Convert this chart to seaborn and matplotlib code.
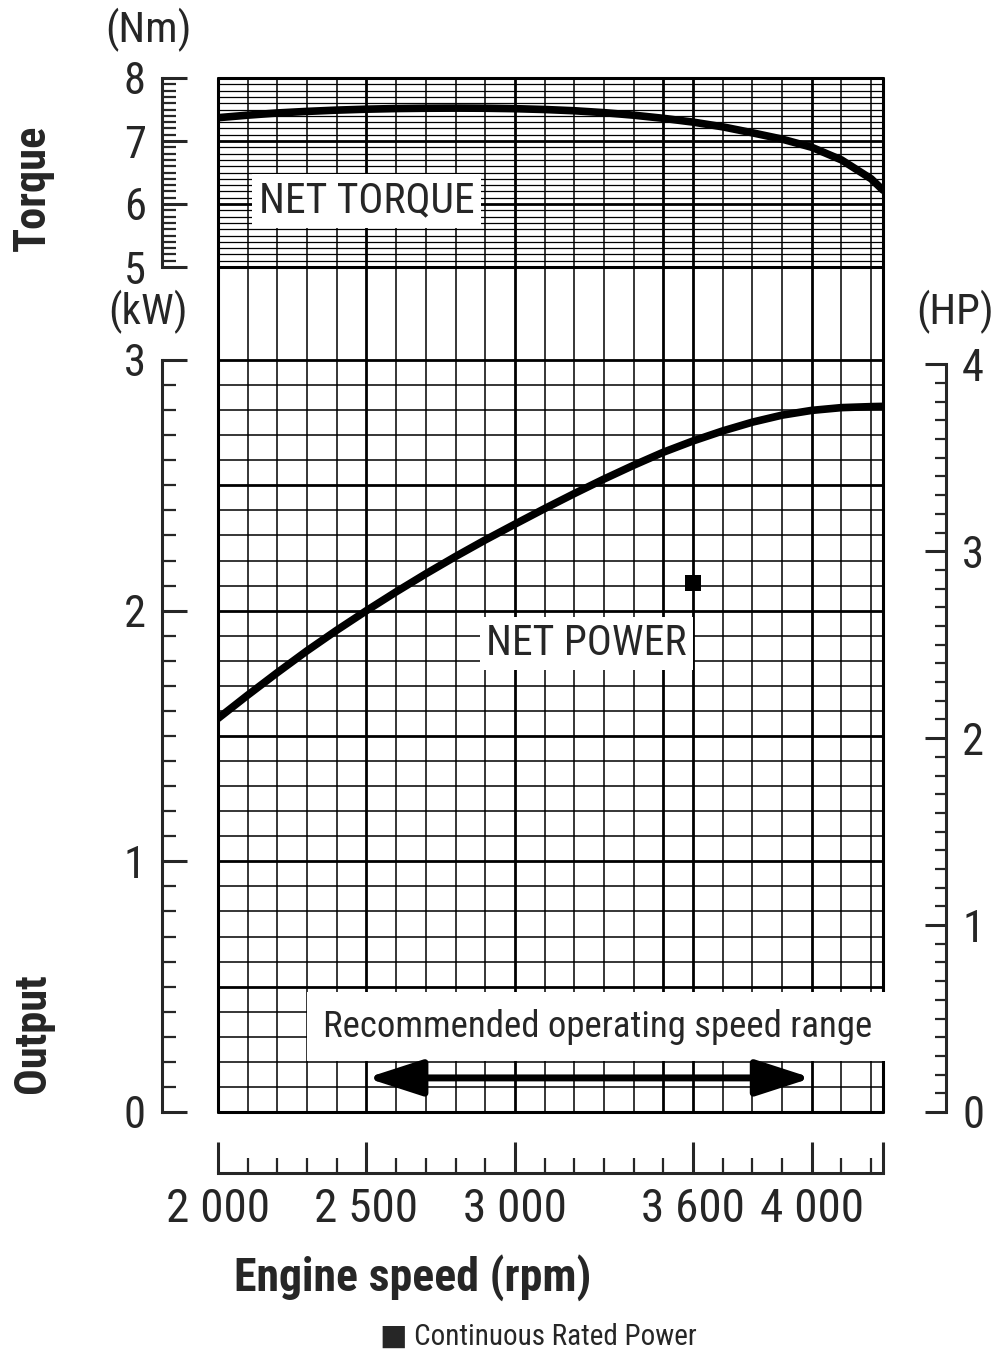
import numpy as np
import matplotlib
matplotlib.use("Agg")
import matplotlib.pyplot as plt
import seaborn as sns

# -----------------------------
# DATA
# -----------------------------
rpm = [2000, 2100, 2200, 2300, 2400, 2500, 2600, 2700, 2800, 2900, 3000, 3100,
       3200, 3300, 3400, 3500, 3600, 3700, 3800, 3900, 4000, 4100, 4200, 4240]
net_power_kw = [1.570, 1.663, 1.753, 1.840, 1.922, 2.000, 2.075, 2.147, 2.216, 2.282,
                2.345, 2.407, 2.467, 2.525, 2.580, 2.632, 2.677, 2.717, 2.752, 2.780,
                2.799, 2.810, 2.814, 2.815]
net_torque_nm = [7.37, 7.41, 7.445, 7.47, 7.49, 7.505, 7.515, 7.52, 7.522, 7.52,
                 7.513, 7.50, 7.48, 7.45, 7.41, 7.36, 7.30, 7.225, 7.13, 7.03,
                 6.90, 6.70, 6.40, 6.22]

rated_rpm = [3600]
rated_kw = [2.11]

range_rpm = [2500, 4000]
range_kw = 0.136

x_ticks = [2000, 2500, 3000, 3600, 4000, 4240]
x_labels = ["2 000", "2 500", "3 000", "3 600", "4 000", ""]
torque_ticks = [5, 6, 7, 8]
kw_ticks = [0, 1, 2, 3]
hp_ticks = [0, 1, 2, 3, 4]

KW_PER_HP = 0.7457
X_MIN, X_MAX = 2000, 4240
T_MIN, T_MAX = 5, 8
P_TOP = 3.371

# -----------------------------
# STYLE
# -----------------------------
sns.set_style("white")
plt.rcParams['font.family'] = ['Roboto Condensed', 'DejaVu Sans']
plt.rcParams['axes.linewidth'] = 2.2

W, H = 996, 1353
fig = plt.figure(figsize=(W / 100, H / 100), dpi=100)


def fx(x):
    return x / W


def fy(y):
    return 1 - y / H


L, R = fx(218), fx(883)
ax_p = fig.add_axes([L, fy(1112), R - L, fy(267) - fy(1112)])
ax_t = fig.add_axes([L, fy(267), R - L, fy(78) - fy(267)], sharex=ax_p)

thin, bold = 1.1, 2.0
v_all = np.arange(2100, 4240, 100)
v_bold = [2500, 3000, 3500, 3600, 4000]

# -----------------------------
# TORQUE PANEL
# -----------------------------
ax_t.set_xlim(X_MIN, X_MAX)
ax_t.set_ylim(T_MIN, T_MAX)
h_t = np.round(np.arange(5.1, 8.0, 0.1), 1)
ax_t.hlines([v for v in h_t if v not in (6, 7)], X_MIN, X_MAX, color="black", lw=0.9, zorder=1)
ax_t.hlines([6, 7], X_MIN, X_MAX, color="black", lw=bold, zorder=1)
ax_t.vlines([v for v in v_all if v not in v_bold], T_MIN, T_MAX, color="black", lw=thin, zorder=1)
ax_t.vlines(v_bold, T_MIN, T_MAX, color="black", lw=bold, zorder=1)
for y in (T_MIN, T_MAX):
    ax_t.axhline(y, color="black", lw=2.2, clip_on=False, zorder=3)
for x in (X_MIN, X_MAX):
    ax_t.axvline(x, color="black", lw=2.2, clip_on=False, zorder=3)

sns.lineplot(x=rpm, y=net_torque_nm, ax=ax_t, color="black", lw=5.5,
             estimator=None, zorder=4)
ax_t.text(2500, 6.05, "NET TORQUE", fontsize=30, ha="center", va="center", zorder=5,
          bbox=dict(boxstyle="square,pad=0.15", facecolor="white", edgecolor="none"))

for s in ("top", "right", "bottom"):
    ax_t.spines[s].set_visible(False)
ax_t.spines['left'].set_position(('outward', 40))
ax_t.spines['left'].set_bounds(T_MIN, T_MAX)
ax_t.set_yticks(torque_ticks)
ax_t.set_yticks(np.arange(5, 8.01, 0.1), minor=True)
ax_t.tick_params(axis="y", which="major", direction="in", length=18, width=2.2,
                 labelsize=32, pad=12, left=True)
ax_t.tick_params(axis="y", which="minor", direction="in", length=10, width=1.6, left=True)
ax_t.tick_params(axis="x", which="both", bottom=False, labelbottom=False)
ax_t.set_xlabel("")
ax_t.set_ylabel("")

# -----------------------------
# POWER PANEL
# -----------------------------
ax_p.set_xlim(X_MIN, X_MAX)
ax_p.set_ylim(0, P_TOP)
h_p = np.round(np.arange(0.1, 3.01, 0.1), 1)
h_bold = [0.5, 1.0, 1.5, 2.0, 2.5, 3.0]
ax_p.hlines([v for v in h_p if v not in h_bold], X_MIN, X_MAX, color="black", lw=thin, zorder=1)
ax_p.hlines(h_bold, X_MIN, X_MAX, color="black", lw=bold, zorder=1)
ax_p.vlines([v for v in v_all if v not in v_bold], 0, P_TOP, color="black", lw=thin, zorder=1)
ax_p.vlines(v_bold, 0, P_TOP, color="black", lw=bold, zorder=1)
ax_p.axhline(0, color="black", lw=2.2, clip_on=False, zorder=3)
for x in (X_MIN, X_MAX):
    ax_p.axvline(x, color="black", lw=2.2, clip_on=False, zorder=3)

sns.lineplot(x=rpm, y=net_power_kw, ax=ax_p, color="black", lw=5.5,
             estimator=None, zorder=4)
sns.scatterplot(x=rated_rpm, y=rated_kw, ax=ax_p, marker="s", s=120, color="black",
                edgecolor="black", linewidth=0, zorder=5)

ax_p.text(3240, 1.87, "NET POWER", fontsize=30, ha="center", va="center", zorder=5,
          bbox=dict(boxstyle="square,pad=0.15", facecolor="white", edgecolor="none"))
ax_p.text(3280, 0.34, "Recommended operating speed range", fontsize=26.5,
          ha="center", va="center", zorder=5,
          bbox=dict(boxstyle="square,pad=0.45", facecolor="white", edgecolor="none"))
ax_p.annotate("", xy=(range_rpm[1], range_kw), xytext=(range_rpm[0], range_kw),
              arrowprops=dict(arrowstyle="<|-|>,head_length=1.7,head_width=0.55",
                              mutation_scale=20, lw=5, color="black",
                              shrinkA=0, shrinkB=0), zorder=6)

ax_p.spines['top'].set_visible(False)
ax_p.spines['right'].set_visible(False)
ax_p.spines['left'].set_position(('outward', 40))
ax_p.spines['left'].set_bounds(0, 3)
ax_p.spines['bottom'].set_position(('outward', 44))
ax_p.spines['bottom'].set_bounds(X_MIN, X_MAX)

ax_p.set_yticks(kw_ticks)
ax_p.set_yticks(np.arange(0, 3.01, 0.1), minor=True)
ax_p.tick_params(axis="y", which="major", direction="in", length=18, width=2.2,
                 labelsize=32, pad=12, left=True)
ax_p.tick_params(axis="y", which="minor", direction="in", length=10, width=1.6, left=True)

ax_p.set_xticks(x_ticks)
ax_p.set_xticklabels(x_labels)
ax_p.set_xticks(np.arange(2000, 4241, 100), minor=True)
ax_p.tick_params(axis="x", which="major", direction="in", length=22, width=2.2,
                 labelsize=34, pad=10, bottom=True)
ax_p.tick_params(axis="x", which="minor", direction="in", length=11, width=1.6, bottom=True)
ax_p.set_xlabel("")
ax_p.set_ylabel("")

# HP axis on the right
ax_h = ax_p.twinx()
ax_h.set_ylim(0, P_TOP / KW_PER_HP)
for s in ("top", "left", "bottom"):
    ax_h.spines[s].set_visible(False)
ax_h.spines['right'].set_position(('outward', 45))
ax_h.spines['right'].set_bounds(0, 4)
ax_h.set_yticks(hp_ticks)
ax_h.set_yticks(np.arange(0, 4.01, 0.1), minor=True)
ax_h.tick_params(axis="y", which="major", direction="in", length=15, width=2.2,
                 labelsize=32, pad=12, right=True)
ax_h.tick_params(axis="y", which="minor", direction="in", length=8, width=1.6, right=True)
ax_h.grid(False)

# -----------------------------
# LABELS
# -----------------------------
fig.text(fx(148), fy(30), "(Nm)", fontsize=31, ha="center", va="center")
fig.text(fx(148), fy(312), "(kW)", fontsize=31, ha="center", va="center")
fig.text(fx(955), fy(312), "(HP)", fontsize=31, ha="center", va="center")
fig.text(fx(33), fy(188), "Torque", fontsize=32, fontweight="bold", rotation=90,
         ha="center", va="center")
fig.text(fx(33), fy(1033), "Output", fontsize=32, fontweight="bold", rotation=90,
         ha="center", va="center")
fig.text(fx(413), fy(1278), "Engine speed (rpm)", fontsize=33, fontweight="bold",
         ha="center", va="center")
fig.text(fx(538), fy(1337), "\u25a0 Continuous Rated Power", fontsize=21,
         ha="center", va="center")

fig.savefig("out.png", dpi=100, facecolor="white")
